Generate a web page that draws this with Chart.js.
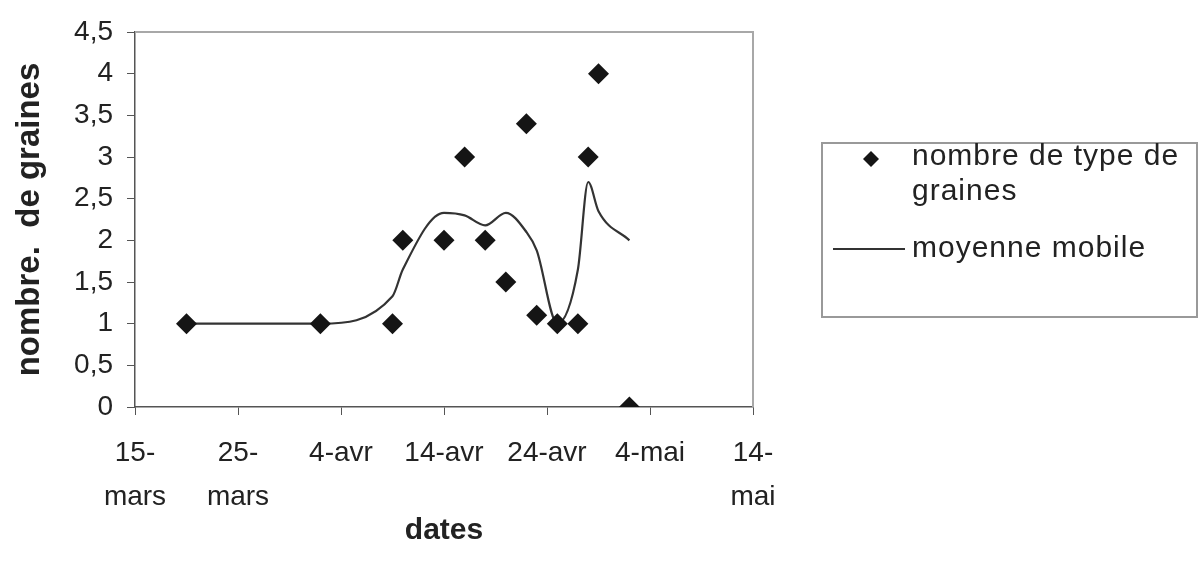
<!DOCTYPE html>
<html>
<head>
<meta charset="utf-8">
<script src="https://cdn.jsdelivr.net/npm/chart.js@4.4.1/dist/chart.umd.min.js"></script>
<style>
  body { margin: 0; background: #fff; }
  #wrap { width: 1199px; height: 570px; }
</style>
</head>
<body>
<div id="wrap"><canvas id="chart" width="1199" height="570"></canvas></div>
<script>
// dates de relevé (année fictive, seuls jour/mois comptent)
const dates = ['2000-03-20', '2000-04-02', '2000-04-09', '2000-04-10', '2000-04-14',
  '2000-04-16', '2000-04-18', '2000-04-20', '2000-04-22', '2000-04-23',
  '2000-04-25', '2000-04-27', '2000-04-28', '2000-04-29', '2000-05-02'];
const seedTypes = [1, 1, 1, 2, 2, 3, 2, 1.5, 3.4, 1.1, 1, 1, 3, 4, 0];
const movingAvg = [1, 1, 1.33, 1.65, 2.33, 2.3, 2.18, 2.33, 2.1, 1.88, 1.0, 1.65, 2.7, 2.35, 2.0];

const xMinDate = '2000-03-15';
const xMaxDate = '2000-05-14';
const xTickLabels = [['15-', 'mars'], ['25-', 'mars'], '4-avr', '14-avr', '24-avr', '4-mai', ['14-', 'mai']];

const seriesNames = ['nombre de type de graines', 'moyenne mobile'];

function dayNum(s) {
    return Date.parse(s + 'T00:00:00Z') / 86400000;
}

const xMin = dayNum(xMinDate);
const xMax = dayNum(xMaxDate);

const pointsData = dates.map((d, i) => ({ x: dayNum(d), y: seedTypes[i] }));
const avgData = dates.map((d, i) => ({ x: dayNum(d), y: movingAvg[i] }));

const FONT = "'Liberation Sans', Arial, sans-serif";
const TXT = '#222';

// cadre gris en haut et à droite de la zone de tracé
const frameBorder = {
    id: 'frameBorder',
    beforeDatasetsDraw(chart) {
        const { ctx, chartArea: a } = chart;
        ctx.save();
        ctx.strokeStyle = '#a8a8a8';
        ctx.lineWidth = 2;
        ctx.beginPath();
        ctx.moveTo(a.left, a.top);
        ctx.lineTo(a.right, a.top);
        ctx.lineTo(a.right, a.bottom);
        ctx.stroke();
        ctx.restore();
    }
};

// légende encadrée à droite
const boxLegend = {
    id: 'boxLegend',
    afterDraw(chart) {
        const ctx = chart.ctx;
        ctx.save();
        ctx.strokeStyle = '#999';
        ctx.lineWidth = 2;
        ctx.strokeRect(822, 143, 375, 174);

        ctx.font = '30px ' + FONT;
        ctx.letterSpacing = '1px';
        ctx.fillStyle = TXT;
        ctx.textBaseline = 'middle';
        ctx.textAlign = 'left';

        // entrée 1 : losange
        const ds0 = chart.data.datasets[0];
        ctx.fillStyle = ds0.backgroundColor;
        ctx.beginPath();
        ctx.moveTo(871, 151);
        ctx.lineTo(879, 159);
        ctx.lineTo(871, 167);
        ctx.lineTo(863, 159);
        ctx.closePath();
        ctx.fill();

        ctx.fillStyle = TXT;
        const words = ds0.label.split(' ');
        let line = '';
        let y = 157;
        words.forEach(w => {
            const test = line ? line + ' ' + w : w;
            if (ctx.measureText(test).width > 282 && line) {
                ctx.fillText(line, 912, y);
                line = w;
                y += 35;
            } else {
                line = test;
            }
        });
        ctx.fillText(line, 912, y);

        // entrée 2 : trait
        const ds1 = chart.data.datasets[1];
        ctx.strokeStyle = ds1.borderColor;
        ctx.lineWidth = 2;
        ctx.beginPath();
        ctx.moveTo(833, 249);
        ctx.lineTo(905, 249);
        ctx.stroke();
        ctx.fillText(ds1.label, 912, 249);
        ctx.restore();
    }
};

new Chart(document.getElementById('chart'), {
    type: 'scatter',
    data: {
        datasets: [{
            label: seriesNames[0],
            data: pointsData,
            pointStyle: 'rectRot',
            pointRadius: 10.5,
            pointHoverRadius: 10.5,
            backgroundColor: '#151515',
            borderColor: '#151515',
            borderWidth: 0,
            showLine: false
        }, {
            label: seriesNames[1],
            data: avgData,
            showLine: true,
            pointRadius: 0,
            borderColor: '#333',
            borderWidth: 2.2,
            cubicInterpolationMode: 'monotone',
            fill: false
        }]
    },
    options: {
        responsive: false,
        animation: false,
        devicePixelRatio: 1,
        layout: { padding: { top: 32, right: 446, left: 0, bottom: 0 } },
        plugins: {
            legend: { display: false },
            tooltip: { enabled: false }
        },
        scales: {
            x: {
                type: 'linear',
                min: xMin,
                max: xMax,
                afterFit(scale) { scale.height = 163; },
                grid: {
                    drawOnChartArea: false,
                    drawTicks: true,
                    tickLength: 8,
                    color: '#555'
                },
                border: { color: '#555', width: 1.5 },
                ticks: {
                    stepSize: 10,
                    autoSkip: false,
                    maxRotation: 0,
                    padding: 16,
                    color: TXT,
                    font: { family: FONT, size: 28, lineHeight: 1.57 },
                    callback: (v, i) => xTickLabels[i]
                },
                title: {
                    display: true,
                    text: 'dates',
                    color: TXT,
                    padding: { top: 0, bottom: 21 },
                    font: { family: FONT, size: 30, weight: 'bold' }
                }
            },
            y: {
                min: 0,
                max: 4.5,
                afterFit(scale) { scale.width = 135; },
                grid: {
                    drawOnChartArea: false,
                    drawTicks: true,
                    tickLength: 8,
                    color: '#555'
                },
                border: { color: '#555', width: 1.5 },
                ticks: {
                    stepSize: 0.5,
                    padding: 14,
                    color: TXT,
                    font: { family: FONT, size: 28 },
                    callback: v => String(v).replace('.', ',')
                },
                title: {
                    display: true,
                    text: 'nombre.  de graines',
                    color: TXT,
                    padding: { top: 10, bottom: 0 },
                    font: { family: FONT, size: 33, weight: 'bold' }
                }
            }
        }
    },
    plugins: [frameBorder, boxLegend]
});
</script>
</body>
</html>
